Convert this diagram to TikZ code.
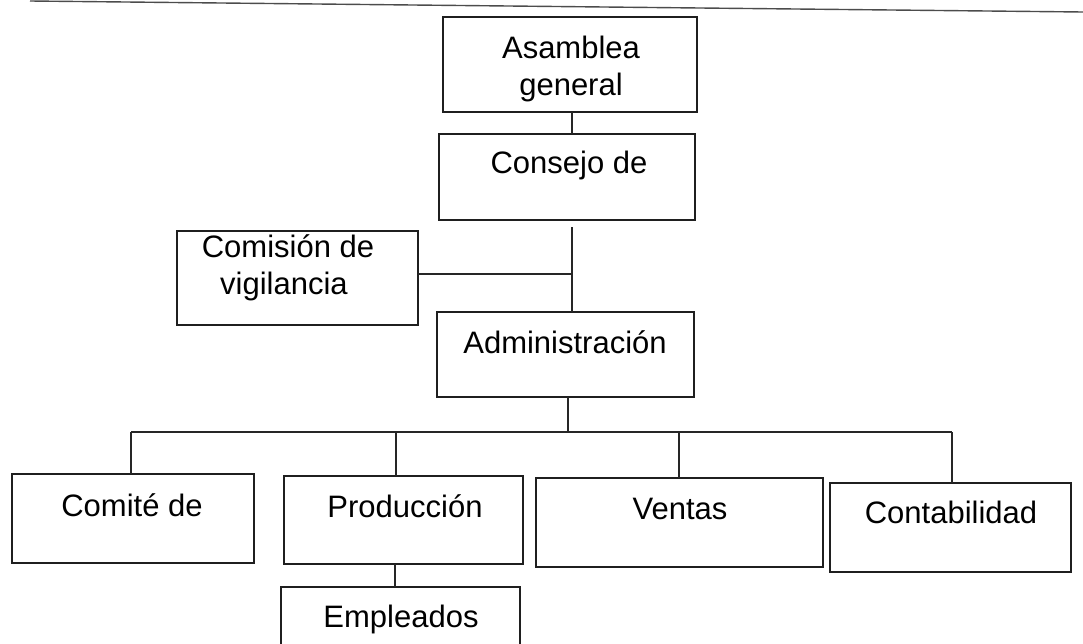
\documentclass[tikz,border=0pt]{standalone}
\usepackage{fontspec}
\setmainfont{Liberation Sans}
\begin{document}
\begin{tikzpicture}[x=1pt,y=-1pt,
  box/.style={draw=black!88,line width=1.8pt,rectangle,inner sep=0pt,outer sep=0pt},
  lbl/.style={anchor=base,inner sep=0pt,font=\fontsize{31}{37}\selectfont},
  conn/.style={draw=black!85,line width=1.4pt}]
\useasboundingbox (0,0) rectangle (1083,643);
\clip (0,0) rectangle (1083,643);
% scan top line
\draw[black!70,line width=1.4pt] (30,1) -- (1083,12);
% boxes
\node[box,minimum width=254pt,minimum height=95pt] (asam) at (570,64.5) {};
\node[box,minimum width=256pt,minimum height=86pt] (consejo) at (567,177) {};
\node[box,minimum width=241pt,minimum height=94pt] (comision) at (297.5,278) {};
\node[box,minimum width=257pt,minimum height=85pt] (admin) at (565.5,354.5) {};
\node[box,minimum width=242pt,minimum height=89pt] (comite) at (133,518.5) {};
\node[box,minimum width=239pt,minimum height=88pt] (prod) at (403.5,520) {};
\node[box,minimum width=287pt,minimum height=89pt] (ventas) at (679.5,522.5) {};
\node[box,minimum width=241pt,minimum height=89pt] (conta) at (950.5,527.5) {};
\node[box,minimum width=239pt,minimum height=80pt] (empl) at (400.5,627) {};
% labels
\node[lbl] (asamA) at (571,58) {Asamblea};
\node[lbl] (asamB) at (571,95) {general};
\node[lbl] (consejoA) at (569,173) {Consejo de};
\node[lbl] (comisionA) at (288,257) {Comisión de};
\node[lbl] (comisionB) at (284,294) {vigilancia};
\node[lbl] (adminA) at (565,353) {Administración};
\node[lbl] (comiteA) at (132,516) {Comité de};
\node[lbl] (prodA) at (405,517) {Producción};
\node[lbl] (ventasA) at (680,519) {Ventas};
\node[lbl] (contaA) at (951,523) {Contabilidad};
\node[lbl] (emplA) at (401,627) {Empleados};
% connectors
\coordinate (busL) at (131,432);
\coordinate (busR) at (952,432);
\coordinate (spine) at ([xshift=5pt]consejo.south);
\draw[conn] ([xshift=2pt]asam.south) -- ([xshift=2pt]asam.south |- consejo.north);
\draw[conn,shorten <=7pt] (spine) -- (spine |- admin.north);
\draw[conn] ([yshift=4pt]comision.east) -- ([yshift=4pt]comision.east -| spine);
\draw[conn] ([xshift=2.5pt]admin.south) -- ([xshift=2.5pt]admin.south |- busL);
\draw[conn] (busL) -- (busR);
\draw[conn] (busL) -- (busL |- comite.north);
\draw[conn] ([xshift=-7.5pt]prod.north |- busL) -- ([xshift=-7.5pt]prod.north);
\draw[conn] ([xshift=-0.5pt]ventas.north |- busL) -- ([xshift=-0.5pt]ventas.north);
\draw[conn] (busR) -- (busR |- conta.north);
\draw[conn] ([xshift=-8.5pt]prod.south) -- ([xshift=-8.5pt]prod.south |- empl.north);
\end{tikzpicture}
\end{document}
